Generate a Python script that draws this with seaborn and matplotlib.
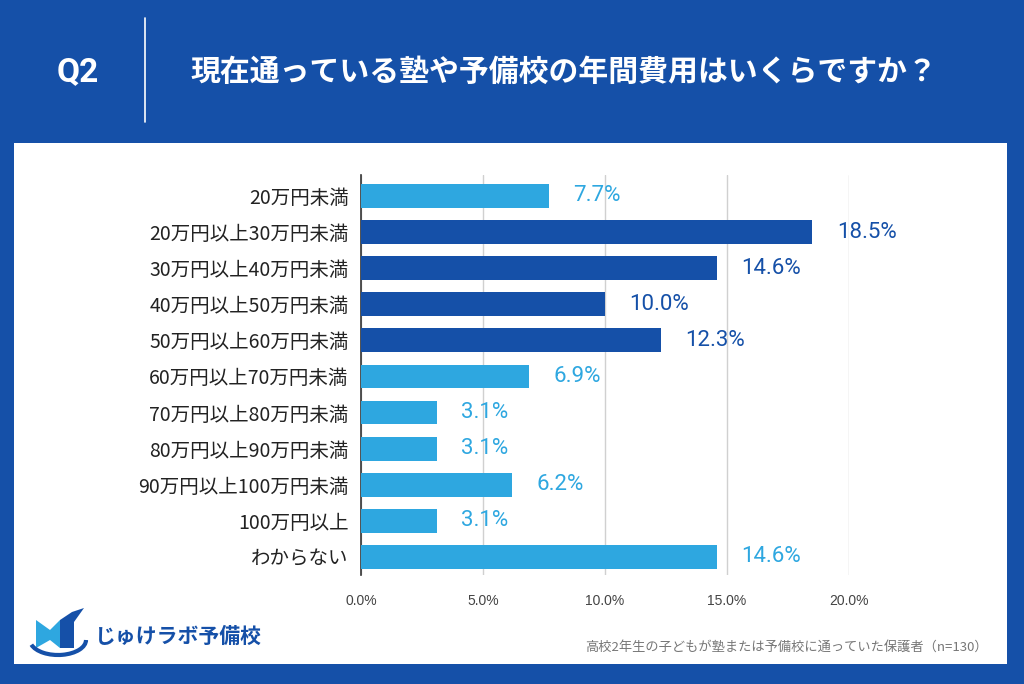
import matplotlib
matplotlib.use("Agg")
import matplotlib.pyplot as plt
import matplotlib.patches as mpatches
import pandas as pd
import seaborn as sns

# data
categories = ["20万円未満", "20万円以上30万円未満", "30万円以上40万円未満", "40万円以上50万円未満",
              "50万円以上60万円未満", "60万円以上70万円未満", "70万円以上80万円未満", "80万円以上90万円未満",
              "90万円以上100万円未満", "100万円以上", "わからない"]
values = [7.7, 18.5, 14.6, 10.0, 12.3, 6.9, 3.1, 3.1, 6.2, 3.1, 14.6]
highlight = [False, True, True, True, True, False, False, False, False, False, False]
xticks = [0, 5, 10, 15, 20]

title = "現在通っている塾や予備校の年間費用はいくらですか？"
footnote = "高校2年生の子どもが塾または予備校に通っていた保護者（n=130）"

DARK = "#1550A8"
LIGHT = "#2EA7E0"

df = pd.DataFrame({"cat": categories, "val": values,
                   "grp": ["dark" if h else "light" for h in highlight]})

sns.set_style("white")
plt.rcParams['font.family'] = ['Noto Sans CJK JP', 'DejaVu Sans']

fig = plt.figure(figsize=(10.24, 6.84), dpi=100)
fig.patch.set_facecolor(DARK)

# white panel
fig.add_artist(mpatches.Rectangle((14 / 1024, 1 - 664 / 684), (1007 - 14) / 1024, (664 - 143) / 684,
                                  transform=fig.transFigure, facecolor="white", edgecolor="none", zorder=0))

# header
fig.text(78 / 1024, 1 - 72 / 684, "Q2", color="white", fontsize=24, fontweight="bold",
         ha="center", va="center", family=["Roboto", "DejaVu Sans"])
fig.add_artist(plt.Line2D([145 / 1024, 145 / 1024], [1 - 18 / 684, 1 - 122 / 684],
                          transform=fig.transFigure, color="white", lw=1.2))
fig.text(190 / 1024, 1 - 72 / 684, title, color="white", fontsize=21.5, fontweight="bold",
         ha="left", va="center")

ax = fig.add_axes([361 / 1024, 1 - 575 / 684, (849 - 361) / 1024, (575 - 175) / 684])
sns.barplot(data=df, x="val", y="cat", hue="grp", palette={"dark": DARK, "light": LIGHT},
            dodge=False, legend=False, width=0.66, saturation=1, ax=ax, zorder=3)

for p in ax.patches:
    p.set_edgecolor("none")

for i, (v, h) in enumerate(zip(values, highlight)):
    ax.text(v + 1.0, i, f"{v:.1f}%", va="center", ha="left", fontsize=16,
            color=DARK if h else LIGHT, family=["Roboto", "DejaVu Sans"], clip_on=False)

ax.set_xlim(0, 20)
ax.set_ylim(10.5, -0.58)
ax.set_xticks(xticks)
ax.set_xticklabels([f"{t:.1f}%" for t in xticks], fontsize=10, color="#444444",
                   family=["Liberation Sans", "DejaVu Sans"])
ax.tick_params(axis="x", length=0, pad=14)
ax.tick_params(axis="y", length=0, pad=9, labelsize=14, labelcolor="#222222")
ax.set_xlabel("")
ax.set_ylabel("")
ax.grid(axis="x", color="#d0d0d0", lw=1, zorder=0)
for s in ["top", "right", "bottom"]:
    ax.spines[s].set_visible(False)
ax.spines["left"].set_color("#333333")
ax.spines["left"].set_linewidth(1.2)
ax.set_facecolor("none")

# logo
lax = fig.add_axes([28 / 1024, 1 - 660 / 684, 65 / 1024, 55 / 684])
lax.set_xlim(0, 65)
lax.set_ylim(0, 55)
lax.axis("off")
lax.add_patch(mpatches.Polygon([[8, 12], [8, 40], [22, 30], [32, 40], [32, 12], [22, 20]],
                               closed=True, facecolor=LIGHT, edgecolor="none"))
lax.add_patch(mpatches.Polygon([[32, 12], [32, 40], [44, 48], [56, 52], [46, 38], [46, 12]],
                               closed=True, facecolor=DARK, edgecolor="none"))
lax.add_patch(mpatches.Arc((30, 20), 56, 30, theta1=190, theta2=360, color=DARK, lw=3))
fig.text(95 / 1024, 1 - 636 / 684, "じゅけラボ予備校", color=DARK, fontsize=15, fontweight="bold",
         ha="left", va="center")

fig.text(988 / 1024, 1 - 647 / 684, footnote, color="#777777", fontsize=9.5, ha="right", va="center")

fig.savefig("out.png", dpi=100, facecolor=fig.get_facecolor())
